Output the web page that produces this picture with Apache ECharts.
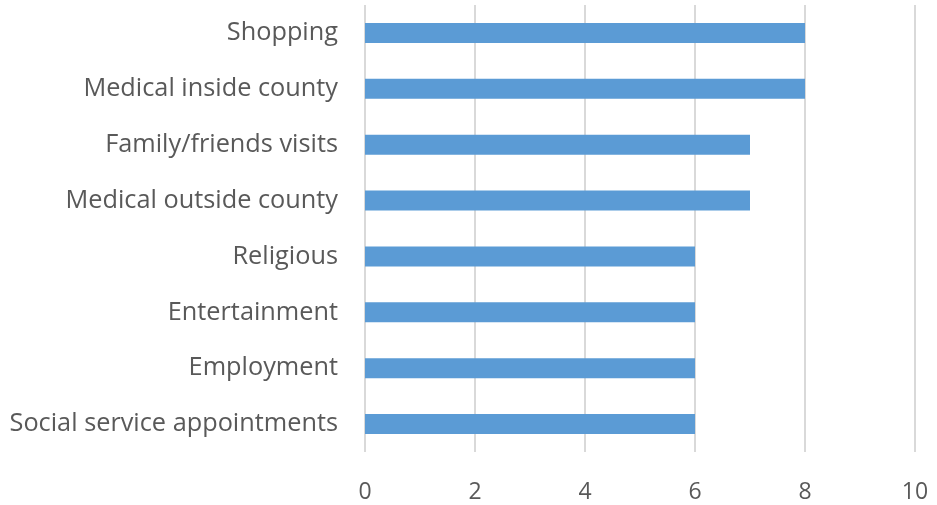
<!DOCTYPE html>
<html>
<head>
<meta charset="utf-8">
<script src="https://cdn.jsdelivr.net/npm/echarts@6/dist/echarts.min.js"></script>
<style>html,body{margin:0;padding:0;background:#fff}#c{width:937px;height:505px}</style>
</head>
<body>
<div id="c"></div>
<script>
const categories = ["Social service appointments","Employment","Entertainment","Religious","Medical outside county","Family/friends visits","Medical inside county","Shopping"];
const values = [6,6,6,6,7,7,8,8];
const xTicks = [0,2,4,6,8,10];

const chart = echarts.init(document.getElementById('c'));
chart.setOption({
  animation: false,
  grid: {left: 365, right: 22, top: 5, bottom: 53, containLabel: false},
  xAxis: {
    type: 'value', min: 0, max: 10, interval: 2,
    axisLine: {show: false}, axisTick: {show: false},
    splitLine: {show: true, lineStyle: {color: '#d9d9d9', width: 2}},
    axisLabel: {color: '#595959', fontSize: 23, fontFamily: 'Open Sans', margin: 29,
      formatter: v => xTicks.includes(v) ? String(v) : ''}
  },
  yAxis: {
    type: 'category', data: categories,
    axisLine: {show: false}, axisTick: {show: false},
    axisLabel: {color: '#595959', fontSize: 25.3, fontFamily: 'Open Sans', margin: 27, padding: [8, 0, 0, 0]}
  },
  series: [{
    type: 'bar', data: values, barWidth: 20,
    itemStyle: {color: '#5b9bd5'}
  }]
});
</script>
</body>
</html>
